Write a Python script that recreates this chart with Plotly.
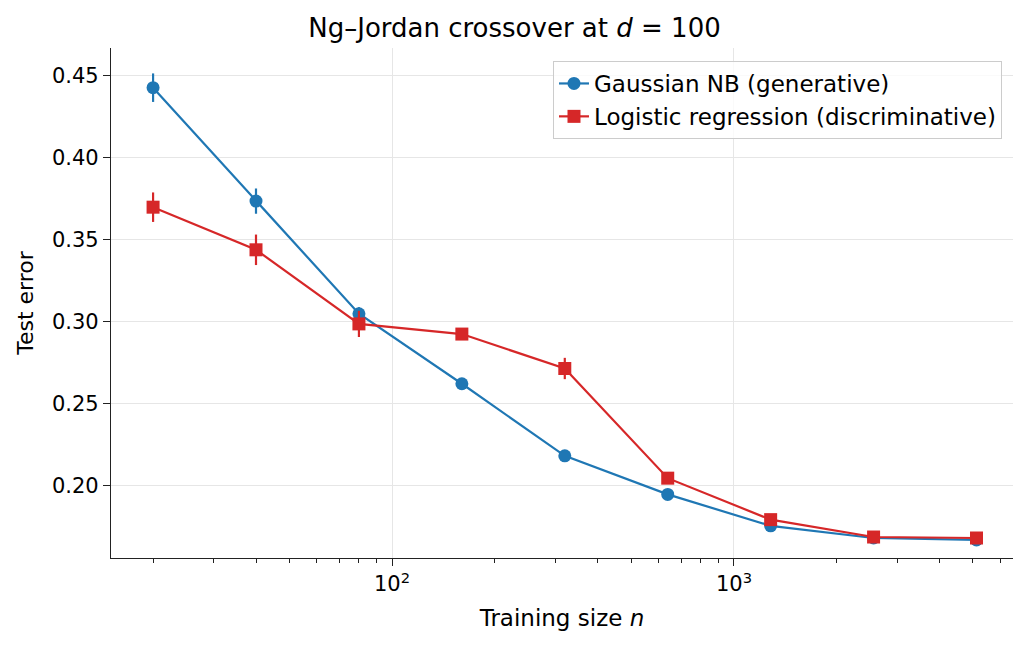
import plotly.graph_objects as go

n_sizes = [20, 40, 80, 160, 320, 640, 1280, 2560, 5120]
gnb_err = [0.4425, 0.3733, 0.3046, 0.2619, 0.2179, 0.1944, 0.1752, 0.1678, 0.1666]
gnb_sd = [0.0087, 0.0077, 0.004, 0.003, 0.003, 0.002, 0.002, 0.002, 0.002]
lr_err = [0.3696, 0.3436, 0.2984, 0.2922, 0.2712, 0.2043, 0.1790, 0.1684, 0.1678]
lr_sd = [0.009, 0.0093, 0.008, 0.003, 0.0065, 0.003, 0.002, 0.002, 0.002]

blue = "#1f77b4"
red = "#d62728"
font = "DejaVu Sans"

fig = go.Figure()
fig.add_trace(go.Scatter(
    x=n_sizes, y=gnb_err, mode="lines+markers", name="Gaussian NB (generative)",
    line=dict(color=blue, width=2.2),
    marker=dict(symbol="circle", size=13, color=blue),
    error_y=dict(type="data", array=gnb_sd, color=blue, thickness=2.2, width=0),
))
fig.add_trace(go.Scatter(
    x=n_sizes, y=lr_err, mode="lines+markers", name="Logistic regression (discriminative)",
    line=dict(color=red, width=2.2),
    marker=dict(symbol="square", size=13, color=red),
    error_y=dict(type="data", array=lr_sd, color=red, thickness=2.2, width=0),
))

minor_vals = [v * 10**e for e in (1, 2, 3) for v in range(2, 10)]

fig.update_layout(
    width=1029, height=649,
    margin=dict(l=111, r=16, t=48, b=91),
    paper_bgcolor="white", plot_bgcolor="white",
    font=dict(family=font, size=21, color="#000"),
    title=dict(text="Ng–Jordan crossover at <i>d</i> = 100", x=0.5, xanchor="center",
               y=1 - 28 / 649, yanchor="middle", font=dict(size=26)),
    legend=dict(x=0.9878, xanchor="right", y=0.9745, yanchor="top",
                bordercolor="#cccccc", borderwidth=1, bgcolor="rgba(255,255,255,0.8)",
                font=dict(size=23), tracegroupgap=0),
    showlegend=True,
)
fig.update_xaxes(
    type="log", range=[1.178, 3.816],
    tickvals=[100, 1000], ticktext=["10<sup>2</sup>", "10<sup>3</sup>"],
    tickfont=dict(size=21),
    ticks="outside", ticklen=7, tickwidth=1.2, tickcolor="#222",
    showline=True, linecolor="#222", linewidth=1.3, mirror=False,
    showgrid=True, gridcolor="#e6e6e6", gridwidth=1,
    minor=dict(tickmode="array", tickvals=minor_vals, ticks="outside", ticklen=4,
               tickwidth=1, tickcolor="#222", showgrid=False),
    title=dict(text="Training size <i>n</i>", font=dict(size=23), standoff=14),
    zeroline=False,
)
fig.update_yaxes(
    range=[0.1556, 0.4667],
    tickvals=[0.20, 0.25, 0.30, 0.35, 0.40, 0.45],
    ticktext=["0.20", "0.25", "0.30", "0.35", "0.40", "0.45"],
    tickfont=dict(size=21),
    ticks="outside", ticklen=7, tickwidth=1.2, tickcolor="#222",
    showline=True, linecolor="#222", linewidth=1.3,
    showgrid=True, gridcolor="#e6e6e6", gridwidth=1,
    title=dict(text="Test error", font=dict(size=22), standoff=12),
    zeroline=False,
)

fig.write_html("out.html")
